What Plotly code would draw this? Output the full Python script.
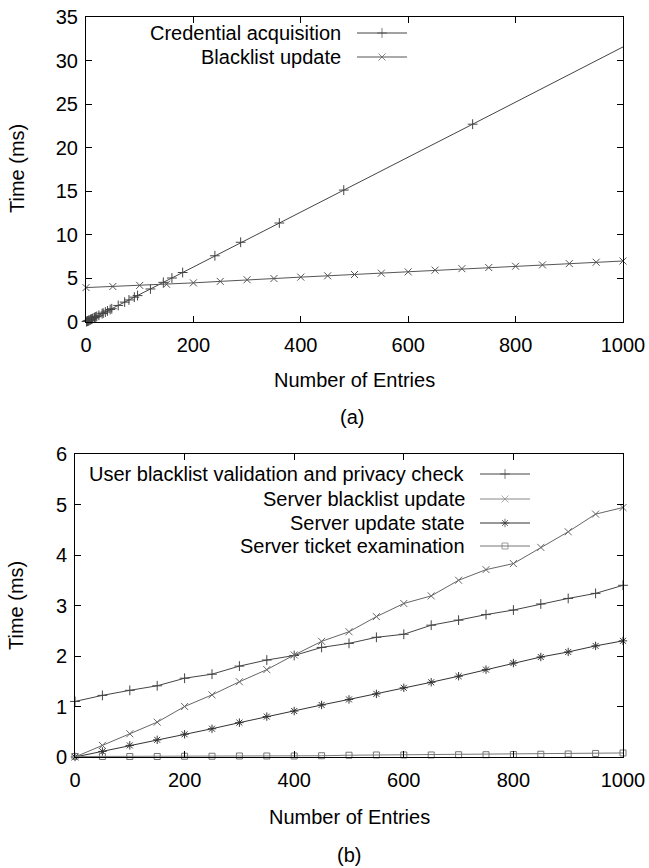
import plotly.graph_objects as go

# ---------------- data (a) ----------------
cred_x = [1, 2, 3, 4, 5, 6, 8, 9, 10, 12, 15, 16, 18, 20, 24, 30, 32, 36, 40, 45, 48,
          60, 72, 80, 90, 96, 120, 144, 160, 180, 240, 288, 360, 480, 720, 1440]
cred_y = [0.05, 0.08, 0.11, 0.14, 0.17, 0.2, 0.26, 0.29, 0.33, 0.39, 0.48, 0.51, 0.58, 0.64,
          0.77, 0.96, 1.02, 1.14, 1.27, 1.43, 1.52, 1.9, 2.28, 2.53, 2.85, 3.03, 3.79, 4.55,
          5.05, 5.68, 7.6, 9.15, 11.36, 15.14, 22.7, 45.5]

bl_x = [0, 50, 100, 150, 200, 250, 300, 350, 400, 450, 500, 550, 600, 650, 700, 750, 800,
        850, 900, 950, 1000]
bl_y = [3.95, 4.07, 4.2, 4.33, 4.49, 4.66, 4.85, 4.99, 5.15, 5.3, 5.45, 5.6, 5.75, 5.95,
        6.12, 6.25, 6.4, 6.55, 6.7, 6.86, 7.0]

# ---------------- data (b) ----------------
n_x = [0, 50, 100, 150, 200, 250, 300, 350, 400, 450, 500, 550, 600, 650, 700, 750, 800,
       850, 900, 950, 1000]
user_check = [1.1, 1.22, 1.32, 1.41, 1.56, 1.64, 1.8, 1.92, 2.01, 2.17, 2.25, 2.37, 2.43,
              2.61, 2.71, 2.82, 2.91, 3.03, 3.14, 3.24, 3.4]
srv_bl_update = [0.0, 0.23, 0.46, 0.69, 1.0, 1.23, 1.49, 1.73, 2.02, 2.29, 2.48, 2.78, 3.04,
                 3.19, 3.5, 3.71, 3.83, 4.15, 4.46, 4.81, 4.94]
srv_upd_state = [0.0, 0.11, 0.23, 0.34, 0.45, 0.56, 0.68, 0.8, 0.91, 1.03, 1.14, 1.25, 1.37,
                 1.48, 1.6, 1.73, 1.86, 1.98, 2.08, 2.2, 2.3]
srv_ticket = [0.01, 0.01, 0.01, 0.01, 0.015, 0.015, 0.02, 0.02, 0.02, 0.025, 0.035, 0.04,
              0.04, 0.04, 0.045, 0.045, 0.05, 0.055, 0.06, 0.07, 0.08]

W, H = 649, 868
FONT = "Liberation Sans, Arial, Helvetica, sans-serif"
FS = 20

fig = go.Figure()

def series(x, y, sym, color, xa, ya, size=8):
    fig.add_trace(go.Scatter(
        x=x, y=y, mode="lines+markers", xaxis=xa, yaxis=ya,
        line=dict(color=color, width=1),
        marker=dict(symbol=sym, size=size, color=color, line=dict(width=1, color=color)),
        cliponaxis=False, showlegend=False, hoverinfo="skip"))

# panel (a)
series(cred_x, cred_y, "cross-thin-open", "#444444", "x", "y", 7)
series(bl_x, bl_y, "x-thin-open", "#555555", "x", "y", 7)
# panel (b)
series(n_x, user_check, "cross-thin-open", "#444444", "x2", "y2", 7)
series(n_x, srv_bl_update, "x-thin-open", "#666666", "x2", "y2", 7)
series(n_x, srv_upd_state, "asterisk-open", "#333333", "x2", "y2", 7)
series(n_x, srv_ticket, "square-open", "#777777", "x2", "y2", 6)

# ---------------- legends (gnuplot style, text then sample) ----------------
legend_a = [("Credential acquisition", 33, "cross-thin-open", "#444444"),
            ("Blacklist update", 57, "x-thin-open", "#555555")]
legend_b = [("User blacklist validation and privacy check", 474, "cross-thin-open", "#444444"),
            ("Server blacklist update", 499, "x-thin-open", "#888888"),
            ("Server update state", 523, "asterisk-open", "#333333"),
            ("Server ticket examination", 546, "square-open", "#777777")]

annotations = []

def legend(items, text_right, s0, s1):
    for label, yy, sym, col in items:
        annotations.append(dict(x=text_right, y=yy, xref="x3", yref="y3", text=label,
                                showarrow=False, xanchor="right", yanchor="middle",
                                font=dict(family=FONT, size=FS, color="black")))
        fig.add_trace(go.Scatter(
            x=[s0, (s0 + s1) / 2, s1], y=[yy, yy, yy], mode="lines+markers",
            xaxis="x3", yaxis="y3", line=dict(color=col, width=1),
            marker=dict(symbol=sym, size=[0, 7 if sym != "square-open" else 6, 0],
                        color=col, line=dict(width=1, color=col)),
            cliponaxis=False, showlegend=False, hoverinfo="skip"))

legend(legend_a, 343, 357, 407)
legend(legend_b, 467, 480, 530)

# ---------------- titles ----------------
for txt, xx, yy, ang in [("Time (ms)", 17, 169, -90), ("Time (ms)", 16, 606, -90),
                         ("Number of Entries", 354, 380, 0), ("Number of Entries", 349, 817, 0),
                         ("(a)", 352, 417, 0), ("(b)", 349, 855, 0)]:
    annotations.append(dict(x=xx, y=yy, xref="x3", yref="y3", text=txt, showarrow=False,
                            textangle=ang, xanchor="center", yanchor="middle",
                            font=dict(family=FONT, size=FS, color="black")))

axis_common = dict(showline=True, linecolor="black", linewidth=1, mirror="allticks",
                   ticks="inside", ticklen=6, tickcolor="black", tickwidth=1,
                   showgrid=False, zeroline=False, automargin=False,
                   tickfont=dict(family=FONT, size=FS, color="black"))

fig.update_layout(
    width=W, height=H,
    margin=dict(l=0, r=0, t=0, b=0),
    paper_bgcolor="white", plot_bgcolor="rgba(0,0,0,0)",
    xaxis=dict(domain=[86 / W, 623 / W], range=[0, 1000], tickvals=[0, 200, 400, 600, 800, 1000],
               anchor="y", ticklabelstandoff=5, **axis_common),
    yaxis=dict(domain=[1 - 322 / H, 1 - 17 / H], range=[0, 35],
               tickvals=[0, 5, 10, 15, 20, 25, 30, 35], anchor="x", ticklabelstandoff=3,
               **axis_common),
    xaxis2=dict(domain=[75 / W, 623 / W], range=[0, 1000], tickvals=[0, 200, 400, 600, 800, 1000],
                anchor="y2", ticklabelstandoff=5, **axis_common),
    yaxis2=dict(domain=[1 - 757 / H, 1 - 454 / H], range=[0, 6],
                tickvals=[0, 1, 2, 3, 4, 5, 6], anchor="x2", ticklabelstandoff=3, **axis_common),
    xaxis3=dict(domain=[0, 1], range=[0, W], visible=False, fixedrange=True, anchor="y3"),
    yaxis3=dict(domain=[0, 1], range=[H, 0], visible=False, fixedrange=True, anchor="x3"),
    annotations=annotations,
    showlegend=False,
)

fig.write_html("out.html", config={"displayModeBar": False},
               post_script="document.body.style.margin='0';document.body.style.overflow='hidden';")
